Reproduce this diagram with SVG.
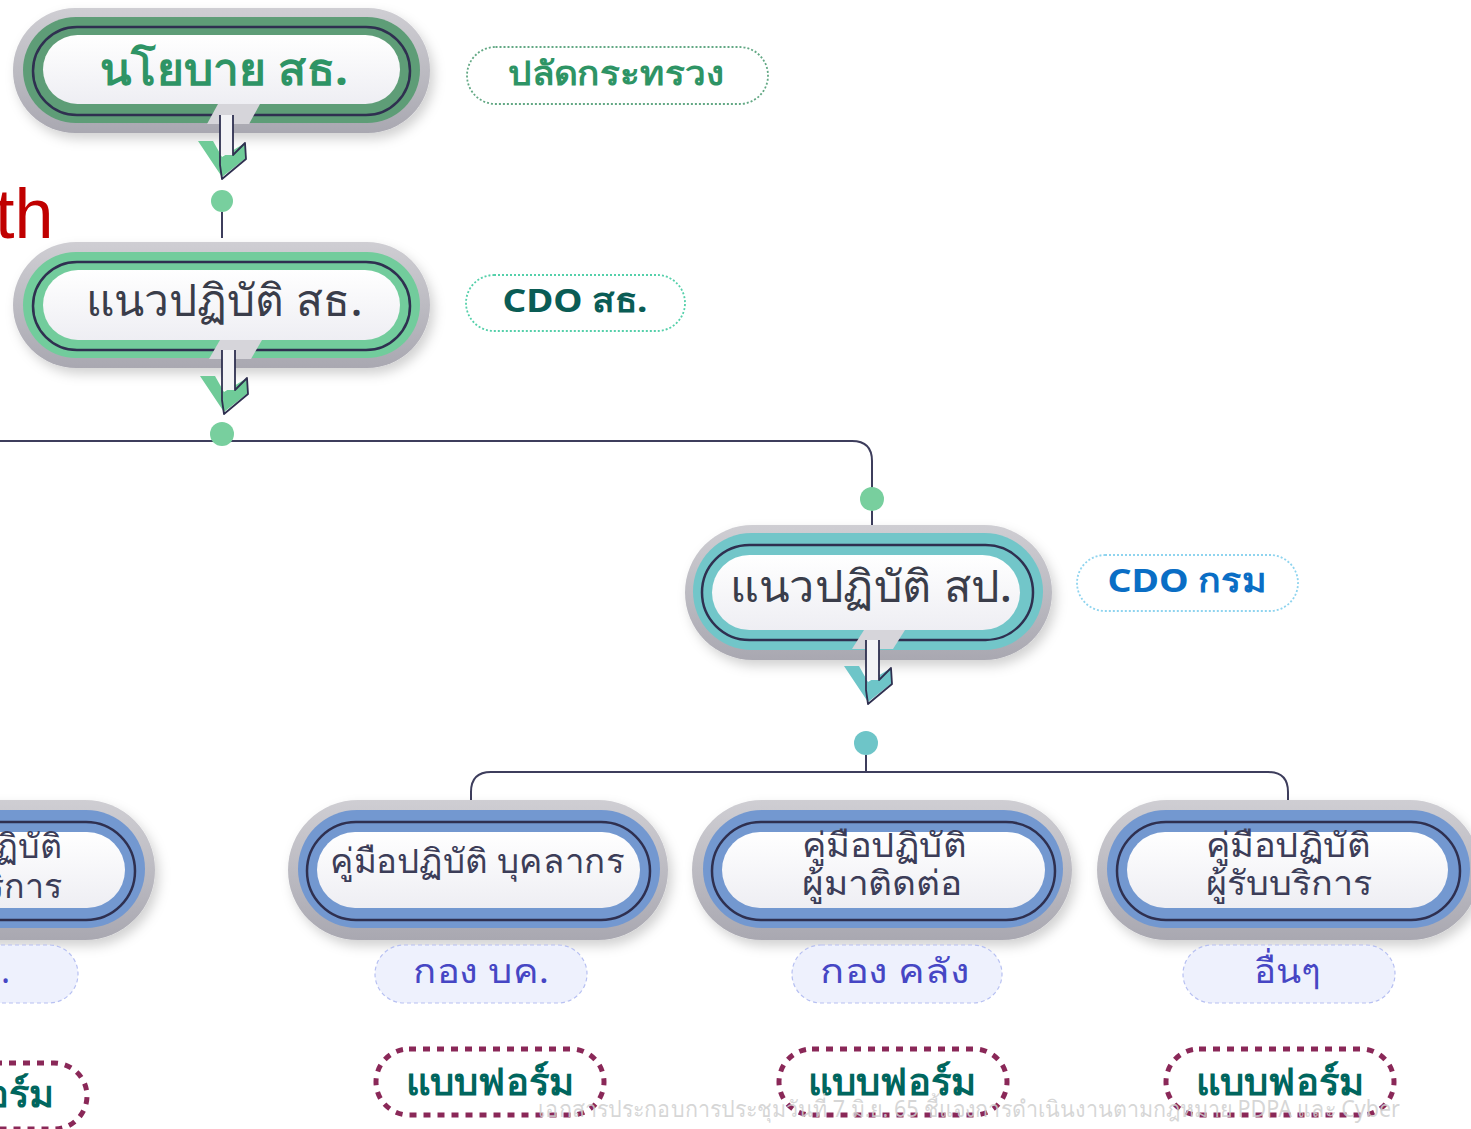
<svg xmlns="http://www.w3.org/2000/svg" width="1471" height="1129" viewBox="0 0 1471 1129">
<defs>
<linearGradient id="gGray" x1="0" y1="0" x2="0" y2="1">
<stop offset="0" stop-color="#cfced3"/><stop offset="1" stop-color="#a9a8b1"/>
</linearGradient>
<linearGradient id="gWhite" x1="0" y1="0" x2="0" y2="1">
<stop offset="0" stop-color="#ffffff"/><stop offset="1" stop-color="#eeeef3"/>
</linearGradient>
<filter id="sh" x="-10%" y="-20%" width="125%" height="150%">
<feDropShadow dx="4" dy="6" stdDeviation="6" flood-color="#000" flood-opacity="0.18"/>
</filter>
<g id="arrowShape">
<polygon points="-22,26 -7,26 2,42 25,28 26,43 2,62" fill="var(--ac)"/>
<rect x="0" y="0" width="13" height="40" fill="#f3f3f6"/>
<polyline points="0,0 0,50 2,64 26,44 25,28 13,40 13,0" fill="none" stroke="#2f3050" stroke-width="1.8" stroke-linejoin="round"/>
</g>
</defs>
<style>
.gray{fill:url(#gGray);filter:url(#sh)}
.ln{fill:none;stroke:#2f3050;stroke-width:2.5}
.wh{fill:url(#gWhite)}
.gap{fill:#d6d5da}
.conn{fill:none;stroke:#3d3d5c;stroke-width:2}
.th{font-family:"Noto Sans","DejaVu Sans",sans-serif;font-weight:bold}
.tnode{font-family:"Noto Sans","DejaVu Sans",sans-serif;font-weight:500;fill:#3a3d4a;font-size:44px;text-anchor:middle}
.tsub{font-family:"Noto Sans","DejaVu Sans",sans-serif;font-weight:500;fill:#3c3d58;font-size:34px;text-anchor:middle}
.tag{font-family:"Noto Sans","DejaVu Sans",sans-serif;fill:#4646c4;font-size:34px;text-anchor:middle}
.tagbox{fill:#eef1fd;stroke:#b7c0f2;stroke-width:1.2;stroke-dasharray:4 3}
.form{fill:#fff;stroke:#8a2858;stroke-width:5;stroke-dasharray:7 7}
.tform{font-family:"Noto Sans","DejaVu Sans",sans-serif;font-weight:bold;fill:#00665e;font-size:38px;text-anchor:middle}
.lab{fill:#fff;stroke-width:1.8;stroke-dasharray:2 2}
</style>

<text x="-5" y="238" font-family="Liberation Sans, Arial, sans-serif" font-size="70" fill="#c00000">th</text>

<g id="connectors">
<line class="conn" x1="222" y1="212" x2="222" y2="238"/>
<path class="conn" d="M0,441 H852 Q872,441 872,461 V526"/>
<line class="conn" x1="866" y1="755" x2="866" y2="772"/>
<path class="conn" d="M471,822 V792 Q471,772 491,772 H1268 Q1288,772 1288,792 V822"/>
<circle cx="222" cy="201" r="11" fill="#78cf9e"/>
<circle cx="222" cy="434" r="12" fill="#78cf9e"/>
<circle cx="872" cy="499" r="12" fill="#78cf9e"/>
<circle cx="866" cy="743" r="12" fill="#6ec5c8"/>
</g>

<g id="node-policy">
<rect class="gray" x="13" y="8" width="417" height="125" rx="62"/>
<rect x="23" y="17" width="397" height="106" rx="53" fill="#5e9d77"/>
<rect class="ln" x="33" y="27" width="377" height="88" rx="44"/>
<rect class="wh" x="43" y="35" width="357" height="69" rx="34.5"/>
<polygon class="gap" points="218,104 260,104 249,124 207,124"/>
<g transform="translate(220,115)" style="--ac:#6fcb98"><use href="#arrowShape"/></g>
<text class="th" x="224" y="85" text-anchor="middle" font-size="44" fill="#2e9465" textLength="248" lengthAdjust="spacingAndGlyphs">นโยบาย สธ.</text>
</g>

<g id="label-permsec">
<rect class="lab" x="467" y="47" width="301" height="57" rx="28.5" stroke="#62a884"/>
<text class="th" x="616" y="85" text-anchor="middle" font-size="33" fill="#2e9465" textLength="216" lengthAdjust="spacingAndGlyphs">ปลัดกระทรวง</text>
</g>

<g id="node-guideline-moph">
<rect class="gray" x="13" y="242" width="417" height="126" rx="63"/>
<rect x="23" y="252" width="397" height="106" rx="53" fill="#72cc9c"/>
<rect class="ln" x="33" y="262" width="377" height="88" rx="44"/>
<rect class="wh" x="43" y="270" width="357" height="70" rx="35"/>
<polygon class="gap" points="220,340 262,340 251,359 209,359"/>
<g transform="translate(222,350)" style="--ac:#6fcb98"><use href="#arrowShape"/></g>
<text class="tnode" x="224" y="316" textLength="277" lengthAdjust="spacingAndGlyphs">แนวปฏิบัติ สธ.</text>
</g>

<g id="label-cdo-moph">
<rect class="lab" x="466" y="275" width="219" height="56" rx="28" stroke="#55d0aa"/>
<text class="th" x="575" y="312" text-anchor="middle" font-size="33" fill="#0a5c55" textLength="145" lengthAdjust="spacingAndGlyphs">CDO สธ.</text>
</g>

<g id="node-guideline-ops">
<rect class="gray" x="685" y="525" width="367" height="135" rx="67.5"/>
<rect x="693" y="533" width="350" height="117" rx="58.5" fill="#72c6c9"/>
<rect class="ln" x="702" y="545" width="331" height="95" rx="47.5"/>
<rect class="wh" x="712" y="555" width="308" height="75" rx="37.5"/>
<polygon class="gap" points="864,630 905,630 893,649 852,649"/>
<g transform="translate(866,640)" style="--ac:#6ec5c8"><use href="#arrowShape"/></g>
<text class="tnode" x="871" y="602" textLength="282" lengthAdjust="spacingAndGlyphs">แนวปฏิบัติ สป.</text>
</g>

<g id="label-cdo-dept">
<rect class="lab" x="1077" y="555" width="221" height="56" rx="28" stroke="#8fd4ef"/>
<text class="th" x="1187" y="592" text-anchor="middle" font-size="33" fill="#0a6ec5" textLength="159" lengthAdjust="spacingAndGlyphs">CDO กรม</text>
</g>

<g id="node-left-partial">
<rect class="gray" x="-230" y="800" width="385" height="140" rx="70"/>
<rect x="-230" y="810" width="375" height="118" rx="59" fill="#7398d0"/>
<rect class="ln" x="-230" y="822" width="365" height="98" rx="49"/>
<rect class="wh" x="-230" y="832" width="355" height="76" rx="38"/>
<text class="tsub" style="text-anchor:end"><tspan x="62" y="858">ปฏิบัติ</tspan><tspan x="62" y="898">บริการ</tspan></text>
<rect class="tagbox" x="-140" y="945" width="218" height="58" rx="29"/>
<text class="tag" x="10" y="983" style="text-anchor:end">สธ.</text>
<rect class="form" x="-150" y="1063" width="237" height="66" rx="33"/>
<text class="tform" x="54" y="1107" style="text-anchor:end">แบบฟอร์ม</text>
</g>

<g id="node-staff">
<rect class="gray" x="288" y="800" width="380" height="140" rx="70"/>
<rect x="298" y="810" width="362" height="118" rx="59" fill="#7398d0"/>
<rect class="ln" x="307" y="822" width="343" height="98" rx="49"/>
<rect class="wh" x="317" y="832" width="323" height="76" rx="38"/>
<text class="tsub" x="477" y="873" textLength="294" lengthAdjust="spacingAndGlyphs">คู่มือปฏิบัติ บุคลากร</text>
<rect class="tagbox" x="375" y="945" width="212" height="58" rx="29"/>
<text class="tag" x="481" y="983" textLength="136" lengthAdjust="spacingAndGlyphs">กอง บค.</text>
<rect class="form" x="376" y="1049" width="228" height="66" rx="33"/>
<text class="tform" x="490" y="1095" textLength="168" lengthAdjust="spacingAndGlyphs">แบบฟอร์ม</text>
</g>

<g id="node-visitor">
<rect class="gray" x="692" y="800" width="380" height="140" rx="70"/>
<rect x="703" y="810" width="360" height="118" rx="59" fill="#7398d0"/>
<rect class="ln" x="712" y="822" width="343" height="98" rx="49"/>
<rect class="wh" x="722" y="832" width="323" height="76" rx="38"/>
<text class="tsub"><tspan x="884" y="857" textLength="165" lengthAdjust="spacingAndGlyphs">คู่มือปฏิบัติ</tspan><tspan x="882" y="895" textLength="160" lengthAdjust="spacingAndGlyphs">ผู้มาติดต่อ</tspan></text>
<rect class="tagbox" x="792" y="945" width="210" height="58" rx="29"/>
<text class="tag" x="895" y="983" textLength="150" lengthAdjust="spacingAndGlyphs">กอง คลัง</text>
<rect class="form" x="779" y="1049" width="228" height="66" rx="33"/>
<text class="tform" x="892" y="1095" textLength="168" lengthAdjust="spacingAndGlyphs">แบบฟอร์ม</text>
</g>

<g id="node-client">
<rect class="gray" x="1097" y="800" width="383" height="140" rx="70"/>
<rect x="1107" y="810" width="363" height="118" rx="59" fill="#7398d0"/>
<rect class="ln" x="1117" y="822" width="343" height="98" rx="49"/>
<rect class="wh" x="1127" y="832" width="321" height="76" rx="38"/>
<text class="tsub"><tspan x="1288" y="857" textLength="165" lengthAdjust="spacingAndGlyphs">คู่มือปฏิบัติ</tspan><tspan x="1289" y="895" textLength="167" lengthAdjust="spacingAndGlyphs">ผู้รับบริการ</tspan></text>
<rect class="tagbox" x="1183" y="945" width="212" height="58" rx="29"/>
<text class="tag" x="1287" y="983" textLength="66" lengthAdjust="spacingAndGlyphs">อื่นๆ</text>
<rect class="form" x="1166" y="1049" width="228" height="66" rx="33"/>
<text class="tform" x="1280" y="1095" textLength="168" lengthAdjust="spacingAndGlyphs">แบบฟอร์ม</text>
</g>

<text x="538" y="1117" font-family="Noto Sans, DejaVu Sans, sans-serif" font-size="23" fill="#cfcfcf" fill-opacity="0.85" textLength="862" lengthAdjust="spacingAndGlyphs">เอกสารประกอบการประชุมวันที่ 7 มิ.ย. 65 ชี้แจงการดำเนินงานตามกฎหมาย PDPA และ Cyber</text>
</svg>
